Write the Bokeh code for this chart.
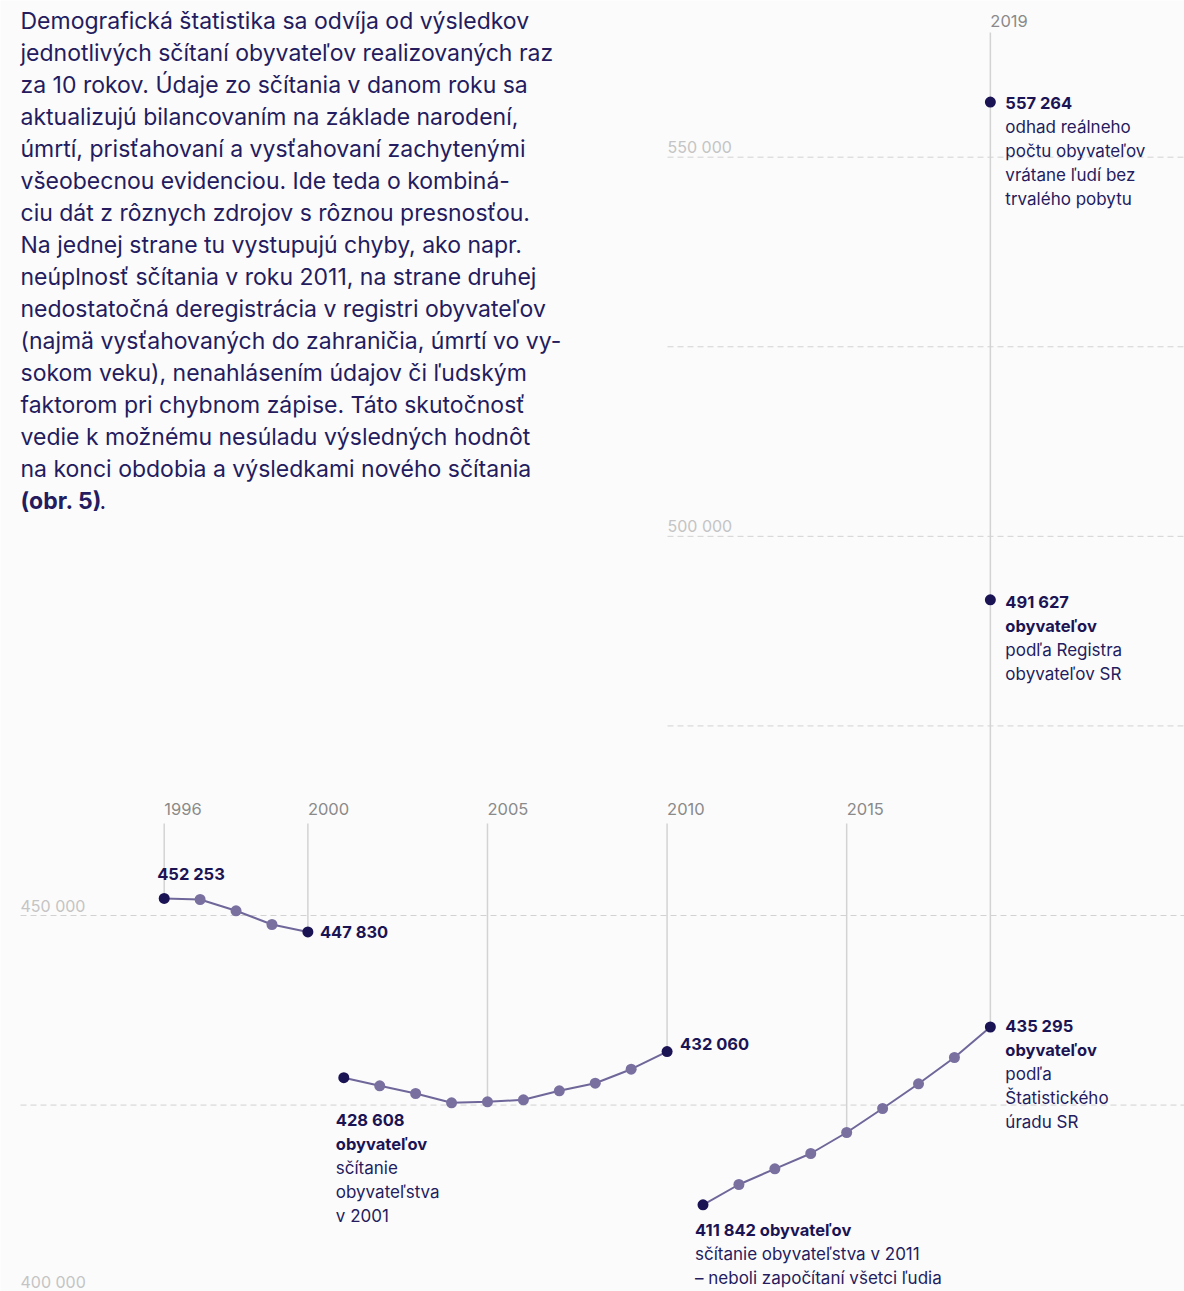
from bokeh.plotting import figure
from bokeh.models import Range1d, ColumnDataSource
from bokeh.embed import file_html
from bokeh.resources import INLINE
from bokeh.core.properties import value

# ---------------- data ----------------
years_a = [1996, 1997, 1998, 1999, 2000]
pop_a = [452253, 452110, 450620, 448813, 447830]
years_b = [2001, 2002, 2003, 2004, 2005, 2006, 2007, 2008, 2009, 2010]
pop_b = [428608, 427542, 426526, 425300, 425432, 425695, 426882, 427885, 429731, 432060]
years_c = [2011, 2012, 2013, 2014, 2015, 2016, 2017, 2018, 2019]
pop_c = [411842, 414526, 416596, 418614, 421383, 424548, 427806, 431274, 435295]
reg_year = [2019]
reg_pop = [491627]
est_year = [2019]
est_pop = [557264]
tick_years = [1996, 2000, 2005, 2010, 2015, 2019]
grid_values = [425000, 450000, 475000, 500000, 525000, 550000]
label_values = [400000, 450000, 500000, 550000]
y_tick_labels = ["400 000", "450 000", "500 000", "550 000"]

paragraph = [
    "Demografická štatistika sa odvíja od výsledkov",
    "jednotlivých sčítaní obyvateľov realizovaných raz",
    "za 10 rokov. Údaje zo sčítania v danom roku sa",
    "aktualizujú bilancovaním na základe narodení,",
    "úmrtí, prisťahovaní a vysťahovaní zachytenými",
    "všeobecnou evidenciou. Ide teda o kombiná-",
    "ciu dát z rôznych zdrojov s rôznou presnosťou.",
    "Na jednej strane tu vystupujú chyby, ako napr.",
    "neúplnosť sčítania v roku 2011, na strane druhej",
    "nedostatočná deregistrácia v registri obyvateľov",
    "(najmä vysťahovaných do zahraničia, úmrtí vo vy-",
    "sokom veku), nenahlásením údajov či ľudským",
    "faktorom pri chybnom zápise. Táto skutočnosť",
    "vedie k možnému nesúladu výsledných hodnôt",
    "na konci obdobia a výsledkami nového sčítania",
]
paragraph_bold = "(obr. 5)"
paragraph_tail = "."

# ---------------- style ----------------
BG = "#fbfbfb"
DARK = "#1b1454"
LIGHT = "#7a70a0"
LINE = "#6f6699"
TEXT = "#241c5e"
YEARC = "#8a8a8a"
YLAB = "#c4c4c4"
GRID = "#d2d2d2"
VLINE = "#d3d3d3"
FONT = value("Inter")

W, H = 1184, 1291
PX_PER_YEAR = 35.92
PX_PER_UNIT = 0.007583
X0_PX = 163.7      # pixel of 1996
Y0_PX = 915.0      # pixel of 450 000

def xr(px):   # pixel -> year
    return 1996 + (px - X0_PX) / PX_PER_YEAR

def yr(py):   # pixel -> value
    return 450000 + (Y0_PX - py) / PX_PER_UNIT

p = figure(width=W, height=H, output_backend="svg", toolbar_location=None,
           x_range=Range1d(xr(0), xr(W)), y_range=Range1d(yr(H), yr(0)),
           min_border=0, background_fill_color=BG, border_fill_color=BG,
           outline_line_color=None)
p.xaxis.visible = False
p.yaxis.visible = False
p.xgrid.visible = False
p.ygrid.visible = False

# ---------------- grid ----------------
gx0 = [xr(20) if v < 475000 else xr(667) for v in grid_values]
p.segment(x0=gx0, x1=[xr(W)] * len(grid_values), y0=grid_values, y1=grid_values,
          line_color=GRID, line_width=1, line_dash="6 4")
ysrc = ColumnDataSource(dict(
    x=[xr(20) if v < 475000 else xr(667) for v in label_values],
    y=label_values,
    text=y_tick_labels,
    off=[-13 if v < 425000 else -10 for v in label_values],
))
p.text(x="x", y="y", text="text", y_offset="off", source=ysrc, text_font=FONT,
       text_font_size="16px", text_color=YLAB, text_baseline="middle")

# ---------------- year markers ----------------
all_years = years_a + years_b + years_c
all_pop = pop_a + pop_b + pop_c
bottom = [all_pop[all_years.index(y)] for y in tick_years]
top = [yr(823) if y != 2019 else yr(32) for y in tick_years]
p.segment(x0=tick_years, x1=tick_years, y0=top, y1=bottom, line_color=VLINE, line_width=1.5)
ylab_y = [yr(808) if y != 2019 else yr(20) for y in tick_years]
p.text(x=tick_years, y=ylab_y, text=[str(y) for y in tick_years], text_font=FONT,
       text_font_size="16.5px", text_color=YEARC, text_baseline="middle")

# ---------------- series ----------------
for xs, ys in ((years_a, pop_a), (years_b, pop_b), (years_c, pop_c)):
    p.line(xs, ys, line_color=LINE, line_width=2)
    p.scatter(xs[1:-1], ys[1:-1], size=11, fill_color=LIGHT, line_color=None)
    p.scatter([xs[0], xs[-1]], [ys[0], ys[-1]], size=11, fill_color=DARK, line_color=None)
p.scatter(reg_year + est_year, reg_pop + est_pop, size=11, fill_color=DARK, line_color=None)

# ---------------- annotations ----------------
LH = 24

def note(x, y, bold_lines, reg_lines, dx, dy):
    for i, t in enumerate(bold_lines):
        p.text(x=[x], y=[y], text=[t], x_offset=dx, y_offset=dy + i * LH,
               text_font=FONT, text_font_size="16.5px", text_font_style="bold",
               text_color=DARK, text_baseline="middle")
    n = len(bold_lines)
    for i, t in enumerate(reg_lines):
        p.text(x=[x], y=[y], text=[t], x_offset=dx, y_offset=dy + (n + i) * LH,
               text_font=FONT, text_font_size="17px", text_color=TEXT,
               text_baseline="middle")

def fmt(v):
    return f"{v:,}".replace(",", " ")

note(years_a[0], pop_a[0], [fmt(pop_a[0])], [], -7, -24)
note(years_a[-1], pop_a[-1], [fmt(pop_a[-1])], [], 12, 0)
note(years_b[0], pop_b[0], [fmt(pop_b[0]), "obyvateľov"], ["sčítanie", "obyvateľstva", "v 2001"], -8, 42)
note(years_b[-1], pop_b[-1], [fmt(pop_b[-1])], [], 13, -8)
note(years_c[0], pop_c[0], [fmt(pop_c[0]) + " obyvateľov"],
     ["sčítanie obyvateľstva v 2011", "– neboli započítaní všetci ľudia"], -8, 25)
note(years_c[-1], pop_c[-1], [fmt(pop_c[-1]), "obyvateľov"], ["podľa", "Štatistického", "úradu SR"], 15, -1)
note(reg_year[0], reg_pop[0], [fmt(reg_pop[0]), "obyvateľov"], ["podľa Registra", "obyvateľov SR"], 15, 2)
note(est_year[0], est_pop[0], [fmt(est_pop[0])],
     ["odhad reálneho", "počtu obyvateľov", "vrátane ľudí bez", "trvalého pobytu"], 15, 1)

# ---------------- paragraph ----------------
PLH = 32
base0 = 20
PFS = "23px"
for i, t in enumerate(paragraph):
    p.text(x=[xr(20)], y=[yr(base0 + i * PLH)], text=[t], text_font=FONT,
           text_font_size=PFS, text_color=TEXT, text_baseline="alphabetic")
last = base0 + len(paragraph) * PLH
p.text(x=[xr(20)], y=[yr(last)], text=[paragraph_bold], text_font=FONT,
       text_font_size=PFS, text_font_style="bold", text_color=TEXT, text_baseline="alphabetic")
p.text(x=[xr(99)], y=[yr(last)], text=[paragraph_tail], text_font=FONT,
       text_font_size=PFS, text_color=TEXT, text_baseline="alphabetic")

open("out.html", "w").write(file_html(p, INLINE))
